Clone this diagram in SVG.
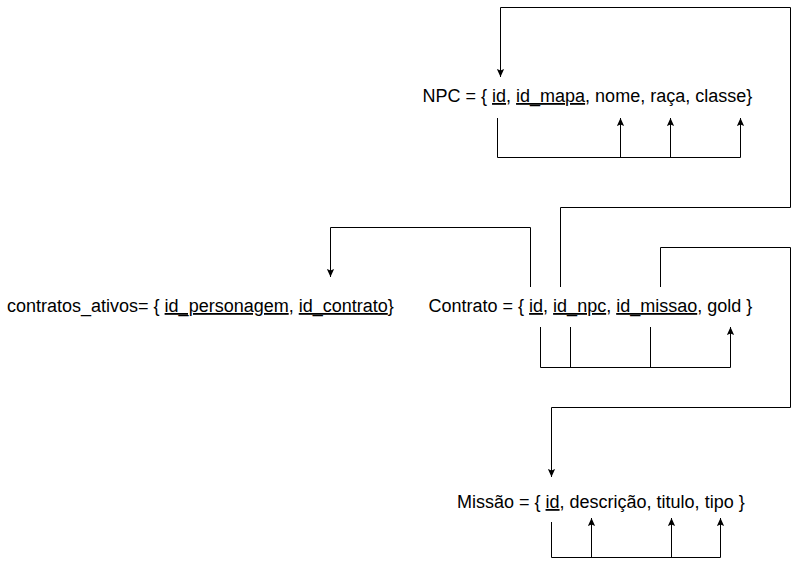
<svg xmlns="http://www.w3.org/2000/svg" width="799" height="566" viewBox="0 0 799 566">
  <style>
    .rel { font-family: "Liberation Sans", Arial, sans-serif; font-size: 18px; fill: #000; }
    .key { text-decoration: underline; }
    .wire { fill: none; stroke: #000; stroke-width: 1; }
    .dep { marker-end: url(#arrow); }
  </style>
  <defs>
    <marker id="arrow" viewBox="0 0 10 10" refX="10" refY="5" markerUnits="userSpaceOnUse" markerWidth="8" markerHeight="8" orient="auto">
      <path d="M0,0.5 L10,5 L0,9.5 L2,5 Z" fill="#000"/>
    </marker>
  </defs>

  <rect width="799" height="566" fill="#fff"/>

  <g id="connectors">
    <!-- NPC: functional dependencies from id -->
    <path class="wire dep" d="M497.5,118 V157.5 H740.5 V118"/>
    <path class="wire dep" d="M620.5,157.5 V118"/>
    <path class="wire dep" d="M670.5,157.5 V118"/>

    <!-- Contrato.id_npc references NPC.id -->
    <path class="wire dep" d="M560.5,287 V207.5 H790.5 V7.5 H500.5 V77"/>

    <!-- Contrato.id referenced by contratos_ativos -->
    <path class="wire dep" d="M530.5,287 V227.5 H330.5 V277"/>

    <!-- Contrato.id_missao references Missão.id -->
    <path class="wire dep" d="M660.5,287 V247.5 H790.5 V407.5 H551.5 V477"/>

    <!-- Contrato: key determines gold -->
    <path class="wire dep" d="M540.5,327 V367.5 H730.5 V327"/>
    <path class="wire" d="M570.5,327 V367.5"/>
    <path class="wire" d="M650.5,327 V367.5"/>

    <!-- Missão: dependencies from id -->
    <path class="wire dep" d="M551.5,522 V557.5 H720.5 V518"/>
    <path class="wire dep" d="M591.5,557.5 V518"/>
    <path class="wire dep" d="M671.5,557.5 V518"/>
  </g>

  <g id="npc">
    <text class="rel" x="422.5" y="102">NPC = { <tspan class="key">id</tspan>, <tspan class="key">id_mapa</tspan>, nome, raça, classe}</text>
  </g>

  <g id="contratos_ativos">
    <text class="rel" x="7" y="312">contratos_ativos= { <tspan class="key">id_personagem</tspan>, <tspan class="key">id_contrato</tspan>}</text>
  </g>

  <g id="contrato">
    <text class="rel" x="428.5" y="312">Contrato = { <tspan class="key">id</tspan>, <tspan class="key">id_npc</tspan>, <tspan class="key">id_missao</tspan>, gold }</text>
  </g>

  <g id="missao">
    <text class="rel" x="457" y="508">Missão = { <tspan class="key">id</tspan>, descrição, titulo, tipo }</text>
  </g>
</svg>
